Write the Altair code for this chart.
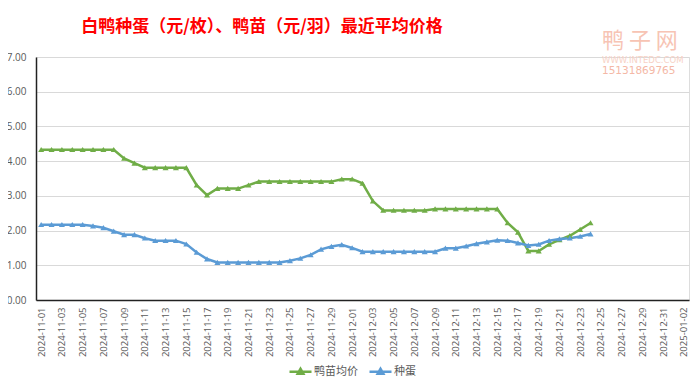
import altair as alt
import pandas as pd
from datetime import date, timedelta

# ---- data ----
start = date(2024, 11, 1)
all_dates = [(start + timedelta(days=i)).isoformat() for i in range(63)]  # 2024-11-01 .. 2025-01-02
label_dates = all_dates[::2]

seedling = [4.33, 4.33, 4.33, 4.33, 4.33, 4.33, 4.33, 4.33,
            4.08, 3.94,
            3.81, 3.81, 3.81, 3.81, 3.81,
            3.31, 3.02,
            3.21, 3.21, 3.21,
            3.31,
            3.41, 3.41, 3.41, 3.41, 3.41, 3.41, 3.41, 3.41,
            3.48, 3.48, 3.36, 2.85,
            2.58, 2.58, 2.58, 2.58, 2.58,
            2.62, 2.62, 2.62, 2.62, 2.62, 2.62, 2.62,
            2.22, 1.95, 1.41, 1.41, 1.60, 1.73, 1.85, 2.03, 2.22]

eggs = [2.17, 2.17, 2.17, 2.17, 2.17,
        2.13, 2.08, 1.98, 1.88, 1.88, 1.78,
        1.71, 1.71, 1.71,
        1.61, 1.37, 1.18,
        1.08, 1.08, 1.08, 1.08, 1.08, 1.08, 1.08,
        1.13, 1.20, 1.30, 1.46, 1.54, 1.59, 1.50,
        1.39, 1.39, 1.39, 1.39, 1.39, 1.39, 1.39, 1.39,
        1.49, 1.49, 1.55, 1.62, 1.67, 1.72, 1.71, 1.64, 1.57, 1.60,
        1.71, 1.76, 1.78, 1.83, 1.90]

y_ticks = [0, 1, 2, 3, 4, 5, 6, 7]
series_names = ["鸭苗均价", "种蛋"]
series_colors = ["#70ad47", "#5b9bd5"]

title_text = "白鸭种蛋（元/枚）、鸭苗（元/羽）最近平均价格"

rows = []
for name, vals in zip(series_names, [seedling, eggs]):
    for d, v in zip(all_dates, vals):
        rows.append({"date": d, "series": name, "value": v})
df = pd.DataFrame(rows)

tri = "M-1,0.8L0,-0.9L1,0.8Z"
legend_sym = "M-1,0H1M-0.26,0.2L0,-0.26L0.26,0.2Z"

x_enc = alt.X("date:O", scale=alt.Scale(domain=all_dates),
              axis=alt.Axis(values=label_dates, labelAngle=270, title=None,
                            ticks=False, grid=False, labelColor="#595959",
                            labelFontSize=9.5, labelFont="Open Sans", labelPadding=7,
                            domainColor="#222222", domainWidth=1.5))
y_enc = alt.Y("value:Q", scale=alt.Scale(domain=[0, 7], nice=False, zero=True),
              axis=alt.Axis(values=y_ticks, format=".2f", title=None,
                            ticks=False, labelColor="#595959", labelFontSize=10,
                            labelFont="Open Sans", labelPadding=10, labelOverlap=False,
                            gridColor="#d9d9d9", gridWidth=1,
                            domainColor="#222222", domainWidth=1.5))
color_scale = alt.Scale(domain=series_names, range=series_colors)
color_enc = alt.Color("series:N", sort=series_names, scale=color_scale,
                      legend=alt.Legend(title=None, orient="none", direction="horizontal",
                                        legendX=252, legendY=302,
                                        symbolType=legend_sym, symbolSize=484,
                                        symbolStrokeWidth=2.5, columnPadding=6,
                                        labelColor="#595959", labelFontSize=11,
                                        labelFont="Noto Sans CJK SC", labelOffset=1))

lines = alt.Chart(df).mark_line(strokeWidth=2.5).encode(
    x=x_enc, y=y_enc, color=color_enc, detail="series:N")
points = alt.Chart(df).mark_point(shape=tri, filled=True, size=36, opacity=1).encode(
    x=x_enc, y=y_enc, color=color_enc)

title_mark = alt.Chart(pd.DataFrame({"t": [title_text]})).mark_text(
    font="Noto Sans CJK SC", fontSize=17, fontWeight="bold", color="#ff0000",
    align="center", baseline="middle").encode(
    x=alt.value(226), y=alt.value(-30), text="t:N")

wm1 = alt.Chart(pd.DataFrame({"t": ["鸭 子 网"]})).mark_text(
    font="Noto Sans CJK SC", fontSize=22, color="#f7c4b4",
    align="left", baseline="middle").encode(
    x=alt.value(566), y=alt.value(-16), text="t:N")
wm2 = alt.Chart(pd.DataFrame({"t": ["WWW.INTEDC.COM"]})).mark_text(
    font="DejaVu Sans", fontSize=8.5, color="#f7d2c6", align="left", baseline="middle").encode(
    x=alt.value(566), y=alt.value(3), text="t:N")
wm3 = alt.Chart(pd.DataFrame({"t": ["15131869765"]})).mark_text(
    font="DejaVu Sans", fontSize=10.5, color="#f4b8a6", align="left", baseline="middle").encode(
    x=alt.value(566), y=alt.value(14), text="t:N")

chart = alt.layer(lines, points, title_mark, wm1, wm2, wm3).properties(
    width=653, height=243,
    autosize=alt.AutoSizeParams(type="none"),
    padding={"left": 28, "top": 49, "right": 3, "bottom": 78},
).configure_view(stroke=None).configure(background="white")

chart.save("out.html", embed_options={"renderer": "svg", "actions": False})
